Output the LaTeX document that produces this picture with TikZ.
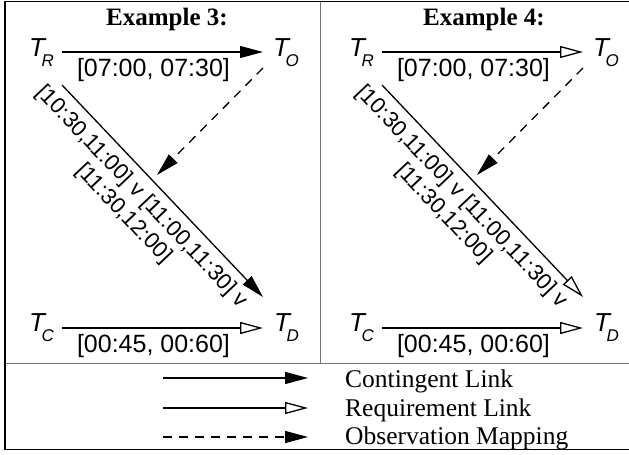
\documentclass[tikz,border=0pt]{standalone}
\usepackage{fontspec}
\setmainfont{Liberation Serif}
\newfontfamily\arialf{Liberation Sans}
\usetikzlibrary{arrows.meta}
\newcommand\mytsub[1]{{\fontsize{26}{26}\selectfont T}\kern-3.5pt\raisebox{-10.5pt}{\fontsize{17}{17}\selectfont #1}}
\tikzset{
  tnode/.style={inner sep=0pt, anchor=base west, font=\arialf\itshape},
  lbl/.style={font=\arialf\fontsize{25}{25}\selectfont, inner sep=0pt},
  diaglbl/.style={font=\arialf\fontsize{22.3}{25}\selectfont, align=center, inner sep=8pt},
  cont/.style={line width=1.3pt, -{Triangle[length=23pt,width=12pt]}},
  req/.style={line width=1.3pt, -{Triangle[open,length=23pt,width=12pt]}},
  obs/.style={line width=1.3pt, dash pattern=on 9pt off 7pt, -{Triangle[length=23pt,width=12pt]}},
  title/.style={font=\bfseries\fontsize{25}{25}\selectfont, anchor=base, inner sep=0pt},
  legtxt/.style={font=\fontsize{25.5}{25.5}\selectfont, anchor=base west, inner sep=0pt},
  divider/.style={draw=black!55, line width=1pt},
  frame/.style={draw=black, line width=1.5pt}
}
\begin{document}
\begin{tikzpicture}[x=1pt,y=-1pt]
\useasboundingbox (0,0) rectangle (629,455);
% frame and dividers
\draw[divider] (320,1) -- (320,363);
\draw[divider] (5,363) -- (629,363);
\draw[frame, line width=1pt] (5,1) -- (629,1);
\draw[frame] (5,1) -- (5,449.5) -- (629,449.5);

% ---------- Example 3 ----------
\node[title] (ex3) at (167,25) {Example 3:};
\node[tnode] (TR3) at (29,56) {\mytsub{R}};
\node[tnode] (TO3) at (273,56) {\mytsub{O}};
\node[tnode] (TC3) at (29,331) {\mytsub{C}};
\node[tnode] (TD3) at (274,331) {\mytsub{D}};
\coordinate (obs3) at (157,175);
\draw[cont] ([xshift=33pt,yshift=4pt]TR3.base west) -- ([xshift=-10pt,yshift=4pt]TO3.base west)
  node[lbl, pos=0.455, anchor=base, yshift=-24pt] (l3a) {[07:00, 07:30]};
\draw[cont] ([xshift=33pt,yshift=-29pt]TR3.base west) -- ([xshift=-11pt,yshift=34pt]TD3.base west)
  node[diaglbl, pos=0.465, sloped, anchor=north] (l3b) {[10:30,11:00] v [11:00,11:30] v\\{[11:30,12:00]}};
\draw[obs] ([xshift=-10pt,yshift=-12pt]TO3.base west) -- (obs3);
\draw[req] ([xshift=33pt,yshift=3pt]TC3.base west) -- ([xshift=-11pt,yshift=3pt]TD3.base west)
  node[lbl, pos=0.455, anchor=base, yshift=-24pt] (l3c) {[00:45, 00:60]};

% ---------- Example 4 ----------
\node[title] (ex4) at (484,25) {Example 4:};
\node[tnode] (TR4) at (349,56) {\mytsub{R}};
\node[tnode] (TO4) at (593,56) {\mytsub{O}};
\node[tnode] (TC4) at (349,331) {\mytsub{C}};
\node[tnode] (TD4) at (594,331) {\mytsub{D}};
\coordinate (obs4) at (477,175);
\draw[req] ([xshift=33pt,yshift=4pt]TR4.base west) -- ([xshift=-10pt,yshift=4pt]TO4.base west)
  node[lbl, pos=0.455, anchor=base, yshift=-24pt] (l4a) {[07:00, 07:30]};
\draw[req] ([xshift=33pt,yshift=-29pt]TR4.base west) -- ([xshift=-11pt,yshift=34pt]TD4.base west)
  node[diaglbl, pos=0.465, sloped, anchor=north] (l4b) {[10:30,11:00] v [11:00,11:30] v\\{[11:30,12:00]}};
\draw[obs] ([xshift=-10pt,yshift=-12pt]TO4.base west) -- (obs4);
\draw[req] ([xshift=33pt,yshift=3pt]TC4.base west) -- ([xshift=-11pt,yshift=3pt]TD4.base west)
  node[lbl, pos=0.455, anchor=base, yshift=-24pt] (l4c) {[00:45, 00:60]};

% ---------- Legend ----------
\coordinate (k1a) at (163,378); \coordinate (k1b) at (308,378);
\coordinate (k2a) at (163,408); \coordinate (k2b) at (308,408);
\coordinate (k3a) at (163,437); \coordinate (k3b) at (308,437);
\draw[cont] (k1a) -- (k1b);
\draw[req] (k2a) -- (k2b);
\draw[obs] (k3a) -- (k3b);
\node[legtxt] (t1) at (345,387) {Contingent Link};
\node[legtxt] (t2) at (345,416) {Requirement Link};
\node[legtxt] (t3) at (345,444) {Observation Mapping};
\end{tikzpicture}
\end{document}
